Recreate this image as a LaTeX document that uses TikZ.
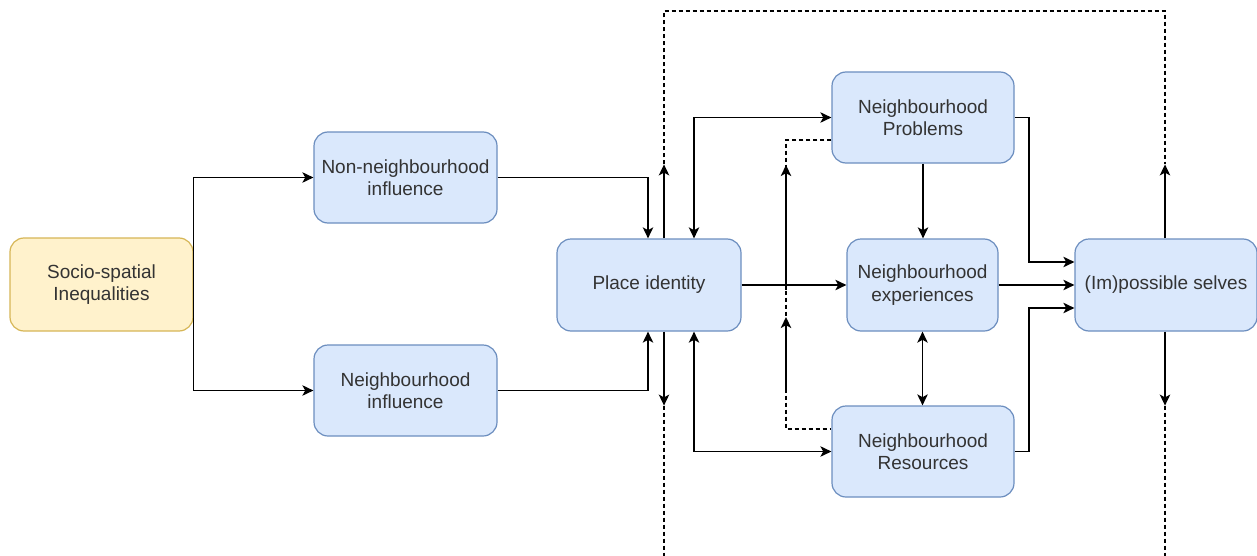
\documentclass[tikz,border=0pt]{standalone}
\usepackage{fontspec}
\setmainfont{Liberation Sans}
\usetikzlibrary{arrows.meta}
\definecolor{fblue}{HTML}{DAE8FC}
\definecolor{bblue}{HTML}{6C8EBF}
\definecolor{fyel}{HTML}{FFF2CC}
\definecolor{byel}{HTML}{D6B656}
\definecolor{txt}{HTML}{333333}
\begin{document}
\begin{tikzpicture}[x=0.5pt,y=-0.5pt,
  box/.style={draw=bblue, fill=fblue, rounded corners=7pt, line width=0.6pt, align=center, inner sep=0pt, text=txt, font=\fontsize{9.5}{11.2}\selectfont},
  ybox/.style={box, draw=byel, fill=fyel},
  tip/.tip={Stealth[length=5.5pt,width=5.2pt,inset=1.4pt]},
  arr/.style={line width=0.85pt, -tip},
  darr/.style={line width=0.85pt, tip-tip},
  dashline/.style={line width=0.75pt, dash pattern=on 2pt off 1.5pt}]
\useasboundingbox (0,0) rectangle (1257,556);
% nodes
\node[ybox, minimum width=91.5pt, minimum height=46.5pt] (socio) at (101.5,284.5) {Socio-spatial\\Inequalities};
\node[box, minimum width=91.5pt, minimum height=45.5pt] (non) at (405.5,177.5) {Non-neighbourhood\\influence};
\node[box, minimum width=91.5pt, minimum height=45.5pt] (ni) at (405.5,390.5) {Neighbourhood\\influence};
\node[box, minimum width=92pt, minimum height=46pt] (place) at (649,285) {Place identity};
\node[box, minimum width=91pt, minimum height=45.5pt] (prob) at (923,117.5) {Neighbourhood\\Problems};
\node[box, minimum width=75.5pt, minimum height=46pt] (exp) at (922.5,285) {Neighbourhood\\experiences};
\node[box, minimum width=91pt, minimum height=45.5pt] (res) at (923,451.5) {Neighbourhood\\Resources};
\node[box, minimum width=91pt, minimum height=46pt] (imp) at (1166,285) {(Im)possible selves};
% coordinates
\coordinate (tl) at (664,11);
\coordinate (tr) at (1165,11);
\coordinate (bl) at (664,556);
\coordinate (br) at (1165,556);
\coordinate (mA) at (786,165);
\coordinate (mB) at (786,290);
\coordinate (mC) at (786,317);
\coordinate (mD) at (786,390);
\coordinate (mE) at (786,429);
\coordinate (ka) at (1029,262);
\coordinate (kb) at (1029,308);
% connectors
\draw[arr] (socio.east) |- (non.west);
\draw[arr] (socio.east) |- (ni.west);
\draw[arr] (non.east) -| ([xshift=-0.5pt]place.north);
\draw[arr] (ni.east) -| ([xshift=-0.5pt]place.south);
\draw[arr] ([xshift=7.5pt]place.north) -- ++(0,-74) coordinate (pu);
\draw[dashline] (pu) -- (tl) -- (tr) -- ([xshift=-0.5pt,yshift=37pt]imp.north);
\draw[arr] ([xshift=-0.5pt]imp.north) -- ++(0,-74);
\draw[arr] ([xshift=7.5pt]place.south) -- ++(0,74) coordinate (pd);
\draw[dashline] (pd) -- (bl);
\draw[arr] ([xshift=-0.5pt]imp.south) -- ++(0,74) coordinate (id);
\draw[dashline] (id) -- (br);
\draw[darr] ([xshift=22.5pt]place.north) |- (prob.west);
\draw[darr] ([xshift=22.5pt]place.south) |- (res.west);
\draw[dashline] ([yshift=-11.25pt]prob.west) -| (mE) -- ([yshift=11.25pt]res.west);
\draw[arr] (mB) -- (mA);
\draw[arr] (mD) -- (mC);
\draw[arr] (place.east) -- (exp.west);
\draw[arr] (prob.south) -- (prob.south |- exp.north);
\draw[darr] (exp.south) -- (exp.south |- res.north);
\draw[arr] (exp.east) -- (exp.east -| imp.west);
\draw[arr] (prob.east) -| (ka) -- (ka -| imp.west);
\draw[arr] (res.east) -| (kb) -- (kb -| imp.west);
\end{tikzpicture}
\end{document}
